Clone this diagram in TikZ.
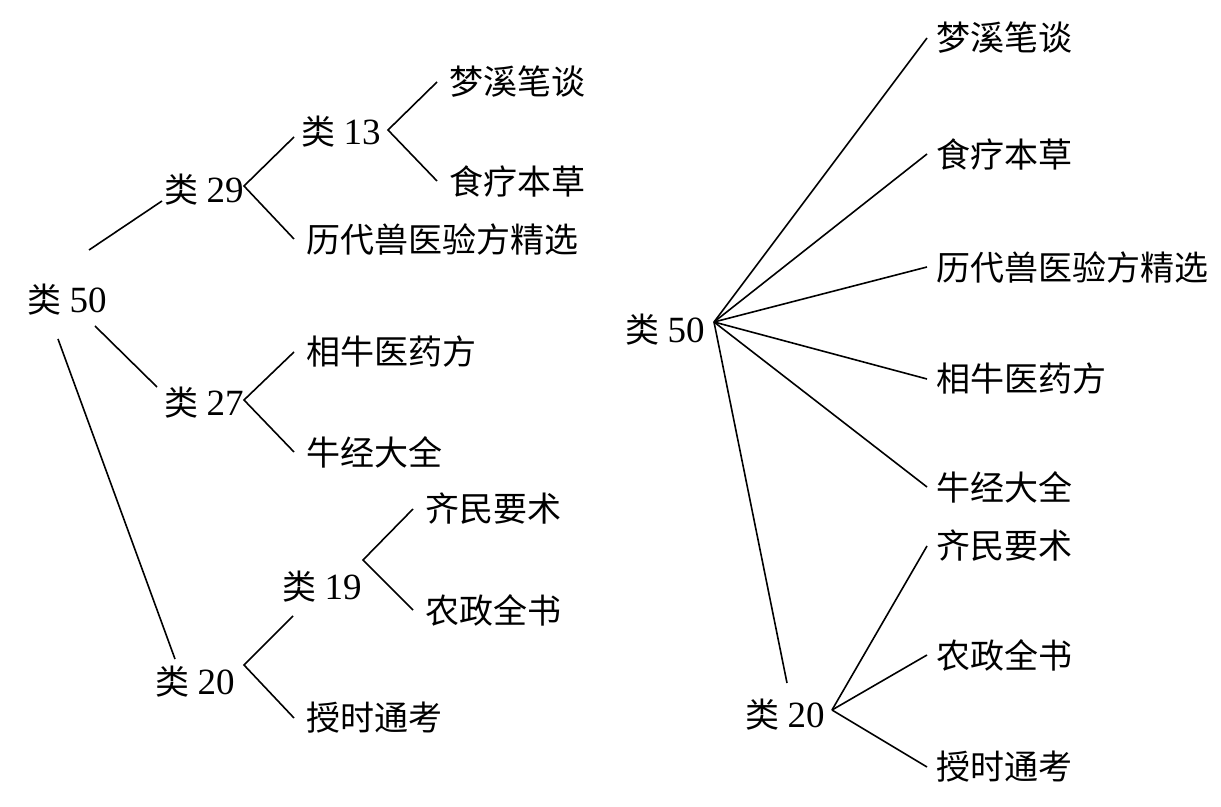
\documentclass[tikz,border=0pt]{standalone}
\usepackage{fontspec}
\setmainfont{Liberation Serif}
\newfontfamily\cjk{Noto Sans CJK SC}
\newcommand\leiname[1]{{\cjk 类}\hspace{0.24em}{\fontsize{18.5pt}{20pt}\selectfont #1}}
\begin{document}
\begin{tikzpicture}[x=0.5pt,y=-0.5pt,
  every node/.style={font=\fontsize{17pt}{20pt}\selectfont, text=black},
  cls/.style={inner sep=0pt, anchor=west},
  leafL/.style={inner xsep=6pt, inner ysep=0pt, anchor=west, font=\fontsize{17pt}{20pt}\selectfont\cjk},
  leafR/.style={inner xsep=4.5pt, inner ysep=0pt, anchor=west, font=\fontsize{17pt}{20pt}\selectfont\cjk},
  conn/.style={draw=black, line width=0.8pt}]
\useasboundingbox (0,0) rectangle (1221,807);

% ---------- left tree ----------
\node[cls] (L50) at (27,300) {\leiname{50}};
\node[cls] (L29) at (164,190) {\leiname{29}};
\node[cls] (L13) at (301,132) {\leiname{13}};
\node[cls] (L27) at (164,403) {\leiname{27}};
\node[cls] (L20) at (155,682) {\leiname{20}};
\node[cls] (L19) at (282,587) {\leiname{19}};

\node[leafL] (M1) at (437,82) {梦溪笔谈};
\node[leafL] (M2) at (437,181) {食疗本草};
\node[leafL] (M3) at (294,239) {历代兽医验方精选};
\node[leafL] (M4) at (294,352) {相牛医药方};
\node[leafL] (M5) at (294,452) {牛经大全};
\node[leafL] (M6) at (413,509) {齐民要术};
\node[leafL] (M7) at (413,610) {农政全书};
\node[leafL] (M8) at (294,718) {授时通考};

\coordinate (v29) at ([shift={(80,-4)}]L29.west);
\coordinate (v13) at ([shift={(87,-2)}]L13.west);
\coordinate (v27) at ([shift={(80,-3)}]L27.west);
\coordinate (v20) at ([shift={(89,-17)}]L20.west);
\coordinate (v19) at ([shift={(81,-27)}]L19.west);

\draw[conn] ([shift={(62,-50)}]L50.west) -- ([shift={(-2,11)}]L29.west);
\draw[conn] ([shift={(68,26)}]L50.west) -- ([shift={(-7,-16)}]L27.west);
\draw[conn] ([shift={(31,39)}]L50.west) -- ([shift={(20,-23)}]L20.west);

\draw[conn] ([shift={(-7,5)}]L13.west) -- (v29) -- (M3.west);
\draw[conn] (M1.west) -- (v13) -- (M2.west);
\draw[conn] (M4.west) -- (v27) -- (M5.west);
\draw[conn] ([shift={(11,29)}]L19.west) -- (v20) -- (M8.west);
\draw[conn] (M6.west) -- (v19) -- (M7.west);

% ---------- right tree ----------
\node[cls] (R50) at (625,330) {\leiname{50}};
\node[cls] (R20) at (745,715) {\leiname{20}};
\coordinate (w50) at ([shift={(89,-8)}]R50.west);
\coordinate (w20) at ([shift={(87,-5)}]R20.west);

\node[leafR] (N1) at (927,38) {梦溪笔谈};
\node[leafR] (N2) at (927,154) {食疗本草};
\node[leafR] (N3) at (927,267) {历代兽医验方精选};
\node[leafR] (N4) at (927,379) {相牛医药方};
\node[leafR] (N5) at (927,487) {牛经大全};
\node[leafR] (N6) at (927,546) {齐民要术};
\node[leafR] (N7) at (927,655) {农政全书};
\node[leafR] (N8) at (927,767) {授时通考};

\foreach \n in {N1,N2,N3,N4,N5}
  \draw[conn] (w50) -- (\n.west);
\draw[conn] (w50) -- ([shift={(42,-32)}]R20.west);
\foreach \n in {N6,N7,N8}
  \draw[conn] (w20) -- (\n.west);
\end{tikzpicture}
\end{document}
